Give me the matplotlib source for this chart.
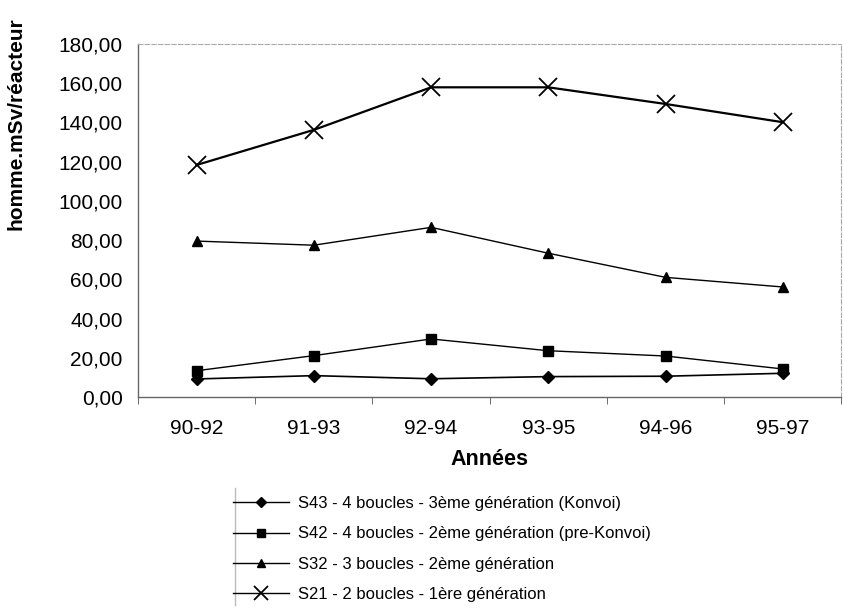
import numpy as np
import matplotlib.pyplot as plt
from matplotlib.lines import Line2D
from matplotlib.ticker import FuncFormatter

plt.rcParams['font.family'] = ['Liberation Sans', 'DejaVu Sans']

# data
periods = ['90-92', '91-93', '92-94', '93-95', '94-96', '95-97']
s43 = [9.2, 10.9, 9.3, 10.4, 10.6, 12.1]
s42 = [13.4, 21.1, 29.6, 23.6, 20.9, 14.3]
s32 = [79.5, 77.4, 86.5, 73.3, 61.0, 56.1]
s21 = [118.3, 136.2, 157.9, 157.9, 149.4, 140.1]
labels = ['S43 - 4 boucles - 3ème génération (Konvoi)',
          'S42 - 4 boucles - 2ème génération (pre-Konvoi)',
          'S32 - 3 boucles - 2ème génération',
          'S21 - 2 boucles - 1ère génération']
yticks = np.arange(0, 181, 20)

fig = plt.figure(figsize=(8.43, 6.14), dpi=100)
ax = fig.add_axes([0.1637, 0.3534, 0.8345, 0.575])

x = np.arange(len(periods))
h1, = ax.plot(x, s43, color='black', lw=1.2, marker='D', ms=6.5)
h2, = ax.plot(x, s42, color='black', lw=1.0, marker='s', ms=7.5)
h3, = ax.plot(x, s32, color='black', lw=1.0, marker='^', ms=7.5)
h4, = ax.plot(x, s21, color='black', lw=1.6, marker='x', ms=13, mew=1.3)

ax.set_xlim(-0.5, len(periods) - 0.5)
ax.set_ylim(0, 180)
ax.set_yticks(yticks)
ax.yaxis.set_major_formatter(FuncFormatter(lambda v, p: f'{v:.2f}'.replace('.', ',')))
ax.set_xticks(x)
ax.set_xticklabels(periods)
ax.set_xticks(np.arange(-0.5, len(periods), 1), minor=True)
ax.tick_params(axis='x', which='major', length=0, pad=16, labelsize=15)
ax.tick_params(axis='x', which='minor', length=5, color='#555555')
ax.tick_params(axis='y', length=0, pad=11, labelsize=15)

for s in ['left', 'bottom']:
    ax.spines[s].set_color('#666666')
    ax.spines[s].set_linewidth(1.0)
for s in ['top', 'right']:
    ax.spines[s].set_color('#aaaaaa')
    ax.spines[s].set_linestyle((0, (4, 2)))
    ax.spines[s].set_linewidth(0.8)

ax.set_xlabel('Années', fontsize=15.5, fontweight='bold', labelpad=8)
ax.set_ylabel('homme.mSv/réacteur', fontsize=15, fontweight='bold')
ax.yaxis.set_label_coords(-0.16, 0.775)

leg = fig.legend([h1, h2, h3, h4], labels, loc='upper left',
                 bbox_to_anchor=(0.276, 0.192), frameon=False, fontsize=12,
                 handlelength=3.4, handletextpad=0.5, labelspacing=0.92,
                 markerscale=0.75, borderaxespad=0, borderpad=0)
for ln in leg.get_lines():
    ln.set_linewidth(1.0)
fig.add_artist(Line2D([0.2788, 0.2788], [0.015, 0.205], transform=fig.transFigure,
                      color='#bbbbbb', lw=1.0))

fig.savefig('out.png', dpi=100)
